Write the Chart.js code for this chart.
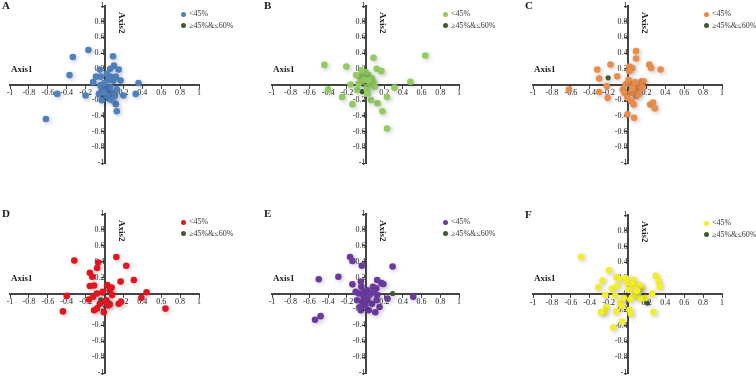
<!DOCTYPE html>
<html>
<head>
<meta charset="utf-8">
<script src="https://cdn.jsdelivr.net/npm/chart.js@4/dist/chart.umd.min.js"></script>
<style>
  body { margin: 0; background: #fff; width: 756px; height: 377px; overflow: hidden; position: relative; }
  .t { position: absolute; font-family: "Liberation Serif", "Times New Roman", serif; color: #1a1a1a; white-space: nowrap; line-height: 1; }
  .letter { font-size: 11px; font-weight: bold; }
  .ax { font-size: 9px; font-weight: bold; }
  .ax2 { writing-mode: vertical-rl; }
  .leg { font-size: 8px; color: #333; }
  .dot { position: absolute; width: 5px; height: 5px; border-radius: 50%; }
</style>
</head>
<body>
<script>
// "<45%" points and "≥45%&≤60%" points for each panel, as [Axis1, Axis2]
const lowA = [[-0.17,0.44],[-0.335,0.35],[-0.37,0.12],[-0.50,-0.12],[-0.62,-0.44],[0.09,0.36],[0.10,0.24],[0.15,0.19],[0.06,0.20],[-0.05,0.19],[-0.09,0.10],[-0.04,0.10],[0.025,0.135],[0.06,0.10],[0.12,0.10],[0.17,0.05],[0.095,0.05],[-0.12,0.03],[0.36,0.02],[0.33,-0.12],[0.20,-0.14],[0.12,-0.25],[0.13,-0.34],[-0.20,-0.14],[-0.06,-0.12],[-0.03,-0.20],[0.04,-0.08],[0.07,-0.12],[0.085,-0.16],[0.05,-0.18],[0.105,-0.10],[0.01,-0.055],[0.06,-0.03],[-0.03,-0.055],[-0.045,-0.01],[0.11,-0.14],[0.025,-0.14],[-0.01,-0.10],[0.08,-0.20],[0.04,0.06],[0.0,0.02],[0.13,-0.06]];
const midA = [[-0.03,-0.14]];

const lowB = [[-0.44,0.25],[-0.205,0.23],[0.085,0.34],[0.12,0.20],[0.17,0.17],[0.64,0.37],[0.48,0.035],[0.31,-0.04],[0.23,-0.16],[0.13,-0.24],[0.18,-0.34],[0.23,-0.56],[-0.40,-0.065],[-0.25,-0.16],[-0.14,-0.25],[-0.16,0.0],[-0.09,-0.07],[0.06,-0.2],[-0.06,0.10],[-0.02,0.14],[0.03,0.12],[0.07,0.08],[0.085,0.03],[-0.04,0.035],[-0.075,0.01],[0.015,-0.03],[0.05,0.01],[0.0,0.16],[-0.04,0.18],[0.1,-0.03],[0.015,-0.07],[-0.02,0.06],[0.03,0.05],[-0.1,0.12],[0.02,-0.12]];
const midB = [[-0.035,-0.09]];

const lowC = [[0.09,0.425],[0.09,0.33],[-0.32,0.19],[-0.18,0.255],[-0.30,0.075],[-0.11,0.105],[-0.62,-0.065],[-0.30,-0.095],[-0.21,-0.17],[-0.22,-0.02],[0.02,0.23],[0.05,0.21],[0.02,0.17],[0.23,0.255],[0.25,0.21],[0.35,0.19],[0.15,0.04],[0.17,0.04],[-0.05,-0.065],[-0.02,0],[0.035,0.02],[0.07,-0.04],[0.105,-0.085],[0.09,-0.15],[0.035,-0.105],[0.125,0],[0.16,-0.04],[-0.035,-0.105],[0,-0.17],[0.04,-0.21],[0.065,-0.255],[0.24,-0.255],[0.27,-0.23],[0.29,-0.305],[0,-0.38],[0.07,-0.425],[0.01,0.06],[0.08,0.03],[0.12,-0.12],[0.05,-0.05]];
const midC = [[-0.205,0.085]];

const lowD = [[-0.32,0.415],[0.125,0.46],[-0.067,0.39],[-0.078,0.32],[0.23,0.35],[-0.155,0.26],[-0.13,0.21],[-0.155,0.095],[-0.11,0.10],[0.17,0.15],[0.31,0.17],[0.03,0.105],[0.075,0.075],[0.055,0.04],[0.445,0.015],[0.39,-0.055],[0.645,-0.19],[-0.40,-0.03],[-0.44,-0.225],[-0.165,-0.075],[-0.12,-0.04],[-0.08,0],[-0.02,0.02],[-0.05,-0.13],[-0.11,-0.21],[-0.08,-0.19],[-0.007,-0.235],[0.035,-0.12],[0.02,-0.085],[0.055,-0.135],[0.08,-0.02],[0.15,-0.13],[0.175,-0.105],[0.01,-0.1],[0.04,-0.15]];
const midD = [[-0.04,-0.08]];

const lowE = [[-0.165,0.46],[-0.14,0.41],[-0.04,0.35],[0.29,0.34],[-0.29,0.21],[-0.50,0.18],[-0.14,0.115],[-0.05,0.15],[-0.045,0.085],[0.125,0.17],[0.17,0.13],[0.19,0.12],[0.08,0.085],[0.115,0.065],[0.51,-0.04],[0.235,-0.065],[0.15,-0.17],[0.105,-0.235],[0.035,-0.21],[-0.05,-0.21],[-0.48,-0.285],[-0.54,-0.33],[-0.105,0.02],[-0.07,0],[-0.02,0.02],[0.02,0.04],[0.05,0],[0.09,0.02],[0.125,-0.02],[-0.02,-0.04],[0.02,-0.085],[-0.035,-0.105],[0.07,-0.13],[0,-0.15],[0.12,-0.085],[-0.09,-0.085],[-0.06,-0.17],[0.0,-0.06],[0.04,-0.02]];
const midE = [[0.29,0]];

const lowF = [[-0.49,0.47],[-0.195,0.30],[-0.265,0.17],[-0.31,0.085],[-0.165,0.07],[-0.235,-0.01],[-0.12,0.215],[-0.08,0.19],[-0.015,0.2],[0,0.14],[0.065,0.18],[0.055,0.12],[0.115,0.1],[0.15,0.075],[0.135,0.105],[0.30,0.23],[0.33,0.16],[0.34,0.09],[0.26,0.005],[0.19,-0.05],[0.275,-0.23],[-0.13,-0.02],[-0.08,-0.11],[-0.04,-0.05],[-0.06,-0.155],[-0.225,-0.165],[-0.245,-0.23],[-0.28,-0.23],[-0.12,-0.22],[0.02,-0.2],[0.035,-0.25],[-0.06,-0.35],[-0.15,-0.42],[0.01,0.055],[0.065,-0.01],[0.115,0.02],[0.1,-0.02],[0.03,-0.07],[0.14,-0.06],[-0.11,0.1],[0.09,0.06],[0.1,0.04]];
const midF = [[0.21,-0.115]];

const seriesNames = ['<45%', '≥45%&≤60%'];
const axisNames = ['Axis1', 'Axis2'];
const axisMin = -1, axisMax = 1, axisStep = 0.2;

// where each panel's plot box sits on the page
const panels = [
  { id: 'A', low: lowA, mid: midA, color: '#4f81bd', l: 10,  r: 199, t: 6,   b: 163 },
  { id: 'B', low: lowB, mid: midB, color: '#92cc5c', l: 272, r: 459, t: 6,   b: 163 },
  { id: 'C', low: lowC, mid: midC, color: '#ea8d48', l: 533, r: 722, t: 6,   b: 163 },
  { id: 'D', low: lowD, mid: midD, color: '#e3161d', l: 10,  r: 199, t: 214, b: 373 },
  { id: 'E', low: lowE, mid: midE, color: '#6b3a9e', l: 272, r: 459, t: 214, b: 373 },
  { id: 'F', low: lowF, mid: midF, color: '#f2ee2a', l: 533, r: 722, t: 215, b: 373 }
];
const midColor = '#435a2c';

// soft halo under the markers, like the original's glow
const glow = {
  id: 'glow',
  beforeDatasetsDraw(chart) {
    const ctx = chart.ctx;
    ctx.save();
    ctx.shadowColor = 'rgba(60,60,90,0.3)';
    ctx.shadowBlur = 4;
    ctx.shadowOffsetX = 1.5;
    ctx.shadowOffsetY = 1.5;
  },
  afterDatasetsDraw(chart) {
    chart.ctx.restore();
  }
};

function addText(cls, text, x, y) {
  const d = document.createElement('div');
  d.className = 't ' + cls;
  d.textContent = text;
  d.style.left = x + 'px';
  d.style.top = y + 'px';
  document.body.appendChild(d);
}

function addDot(color, x, y) {
  const d = document.createElement('div');
  d.className = 'dot';
  d.style.background = color;
  d.style.left = (x - 2.5) + 'px';
  d.style.top = (y - 2.5) + 'px';
  document.body.appendChild(d);
}

function axisOpts(other) {
  return {
    type: 'linear',
    min: axisMin,
    max: axisMax,
    position: other,
    ticks: {
      stepSize: axisStep,
      autoSkip: false,
      maxRotation: 0,
      padding: 1,
      color: '#222',
      font: { family: '"Liberation Serif", "Times New Roman", serif', size: 8 },
      callback: v => String(+v.toFixed(1))
    },
    grid: { drawOnChartArea: false, drawTicks: true, tickLength: 3, color: '#444', tickWidth: 1 },
    border: { color: '#444', width: 2 }
  };
}

function drawPanel(p) {
  const P = 14;
  const w = p.r - p.l, h = p.b - p.t;
  const cv = document.createElement('canvas');
  cv.width = w + 2 * P;
  cv.height = h + 2 * P;
  cv.style.cssText = `position:absolute;left:${p.l - P}px;top:${p.t - P}px;width:${w + 2 * P}px;height:${h + 2 * P}px`;
  document.body.appendChild(cv);

  const xs = axisOpts({ y: 0 });
  xs.afterFit = s => { s.height = 0; };
  const ys = axisOpts({ x: 0 });
  ys.afterFit = s => { s.width = 0; };

  new Chart(cv, {
    type: 'scatter',
    data: {
      datasets: [
        { label: seriesNames[0], data: p.low.map(d => ({ x: d[0], y: d[1] })), backgroundColor: p.color, borderWidth: 0, pointRadius: 3.3 },
        { label: seriesNames[1], data: p.mid.map(d => ({ x: d[0], y: d[1] })), backgroundColor: midColor, borderWidth: 0, pointRadius: 2.6 }
      ]
    },
    options: {
      responsive: false,
      animation: false,
      devicePixelRatio: 1,
      layout: { padding: P },
      plugins: { legend: { display: false }, tooltip: { enabled: false } },
      scales: { x: xs, y: ys }
    },
    plugins: [glow]
  });

  const ox = (p.l + p.r) / 2, oy = (p.t + p.b) / 2;
  addText('letter', p.id, p.l - 8, p.t - 6);
  addText('ax', axisNames[0], p.l + 1, oy - 20);
  addText('ax ax2', axisNames[1], ox + 12, p.t + 6);
  addDot(p.color, p.l + 173, p.t + 8);
  addText('leg', seriesNames[0], p.l + 179, p.t + 4);
  addDot(midColor, p.l + 173, p.t + 19.5);
  addText('leg', seriesNames[1], p.l + 179, p.t + 15.5);
}

panels.forEach(drawPanel);
</script>
</body>
</html>
